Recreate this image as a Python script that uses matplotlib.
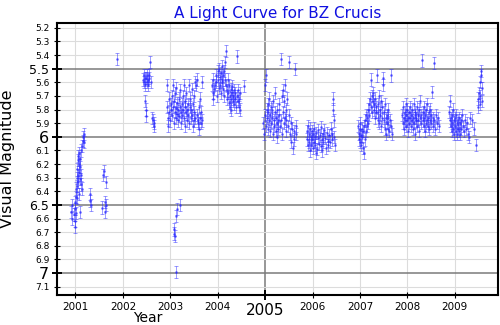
import numpy as np
import matplotlib
matplotlib.use("Agg")
import matplotlib.pyplot as plt
from matplotlib.ticker import FixedLocator

# Visual magnitude estimates of BZ Crucis, one (decimal year, magnitude) pair per row
season_2001 = np.array([
    (2000.91, 6.55), (2000.92, 6.60), (2000.93, 6.50), (2000.97, 6.57), (2000.98, 6.53),
    (2000.99, 6.62), (2001.00, 6.48), (2001.00, 6.66), (2001.01, 6.44), (2001.02, 6.56),
    (2001.02, 6.38), (2001.03, 6.30), (2001.03, 6.45), (2001.04, 6.24), (2001.04, 6.36),
    (2001.05, 6.17), (2001.05, 6.28), (2001.06, 6.14), (2001.06, 6.33), (2001.07, 6.20),
    (2001.07, 6.42), (2001.08, 6.12), (2001.08, 6.26), (2001.09, 6.22), (2001.09, 6.55),
    (2001.10, 6.16), (2001.10, 6.31), (2001.11, 6.28), (2001.12, 6.35), (2001.12, 6.10),
    (2001.13, 6.38), (2001.14, 6.07), (2001.15, 6.03), (2001.16, 6.00), (2001.17, 5.98),
    (2001.18, 6.04),
    (2001.30, 6.42), (2001.31, 6.47), (2001.33, 6.50),
    (2001.57, 6.52), (2001.58, 6.28), (2001.60, 6.25), (2001.62, 6.48), (2001.63, 6.55),
    (2001.64, 6.33), (2001.65, 6.50),
    (2001.88, 5.43),
])

season_2002 = np.array([
    (2002.43, 5.58), (2002.44, 5.55), (2002.45, 5.60), (2002.46, 5.57), (2002.47, 5.62),
    (2002.47, 5.74), (2002.48, 5.80), (2002.49, 5.85), (2002.49, 5.57), (2002.50, 5.60),
    (2002.51, 5.55), (2002.52, 5.58), (2002.53, 5.62), (2002.55, 5.57), (2002.56, 5.55),
    (2002.58, 5.45), (2002.59, 5.60), (2002.61, 5.86), (2002.63, 5.88), (2002.65, 5.92),
    (2002.66, 5.90),
])

season_2003 = np.array([
    (2002.93, 5.62), (2002.94, 5.78), (2002.95, 5.86), (2002.96, 5.92), (2002.97, 5.72),
    (2002.98, 5.82), (2003.00, 5.88), (2003.01, 5.76), (2003.02, 5.80), (2003.03, 5.70),
    (2003.04, 5.84), (2003.05, 5.62), (2003.06, 5.78), (2003.07, 5.90), (2003.08, 5.74),
    (2003.09, 5.82), (2003.10, 5.68), (2003.11, 5.86), (2003.12, 5.79), (2003.13, 5.64),
    (2003.14, 5.83), (2003.15, 5.75), (2003.16, 5.88), (2003.17, 5.80), (2003.18, 5.72),
    (2003.19, 5.85), (2003.20, 5.78), (2003.21, 5.66), (2003.22, 5.82), (2003.23, 5.90),
    (2003.24, 5.76), (2003.25, 5.84), (2003.26, 5.70), (2003.27, 5.80), (2003.28, 5.62),
    (2003.29, 5.86), (2003.30, 5.78), (2003.31, 5.92), (2003.32, 5.74), (2003.33, 5.82),
    (2003.34, 5.68), (2003.35, 5.88), (2003.36, 5.80), (2003.37, 5.76), (2003.38, 5.84),
    (2003.39, 5.62), (2003.40, 5.90), (2003.41, 5.78), (2003.42, 5.72), (2003.43, 5.86),
    (2003.44, 5.80), (2003.45, 5.65), (2003.46, 5.84), (2003.47, 5.92), (2003.48, 5.76),
    (2003.49, 5.88), (2003.50, 5.70), (2003.51, 5.82), (2003.52, 5.60), (2003.53, 5.86),
    (2003.55, 5.62), (2003.56, 5.58), (2003.57, 5.84), (2003.58, 5.90), (2003.59, 5.88),
    (2003.60, 5.94), (2003.61, 5.78), (2003.62, 5.86), (2003.63, 5.72), (2003.64, 5.90),
    (2003.65, 5.82), (2003.66, 5.60), (2003.67, 5.88),
    # faint episode early in 2003
    (2003.07, 6.68), (2003.08, 6.71), (2003.09, 6.73), (2003.13, 6.58), (2003.13, 6.99),
    (2003.15, 6.53), (2003.20, 6.50),
])

season_2004 = np.array([
    (2003.88, 5.62), (2003.89, 5.68), (2003.90, 5.58), (2003.91, 5.72), (2003.92, 5.65),
    (2003.94, 5.62), (2003.96, 5.55), (2003.97, 5.60), (2003.98, 5.70), (2004.00, 5.52),
    (2004.01, 5.58), (2004.02, 5.64), (2004.03, 5.50), (2004.04, 5.56), (2004.05, 5.62),
    (2004.06, 5.53), (2004.07, 5.68), (2004.08, 5.58), (2004.09, 5.48), (2004.10, 5.60),
    (2004.11, 5.55), (2004.12, 5.65), (2004.13, 5.52), (2004.14, 5.70), (2004.15, 5.58),
    (2004.16, 5.45), (2004.17, 5.62), (2004.18, 5.37), (2004.19, 5.66), (2004.20, 5.72),
    (2004.21, 5.58), (2004.22, 5.68), (2004.23, 5.75), (2004.24, 5.62), (2004.25, 5.70),
    (2004.26, 5.78), (2004.27, 5.65), (2004.28, 5.72), (2004.29, 5.80), (2004.30, 5.68),
    (2004.31, 5.63), (2004.32, 5.74), (2004.33, 5.70), (2004.34, 5.66), (2004.35, 5.76),
    (2004.36, 5.72), (2004.37, 5.68), (2004.38, 5.78), (2004.40, 5.41), (2004.41, 5.70),
    (2004.42, 5.74), (2004.43, 5.66), (2004.44, 5.78), (2004.45, 5.72), (2004.46, 5.80),
    (2004.47, 5.68), (2004.55, 5.63),
])

season_2005 = np.array([
    (2004.96, 5.90), (2004.97, 5.98), (2004.99, 5.84), (2005.00, 5.62), (2005.01, 5.92),
    (2005.02, 5.55), (2005.03, 5.80), (2005.04, 5.86), (2005.05, 5.76), (2005.06, 5.94),
    (2005.07, 5.82), (2005.08, 5.88), (2005.09, 5.72), (2005.10, 5.96), (2005.11, 5.84),
    (2005.12, 5.78), (2005.13, 5.90), (2005.14, 5.86), (2005.15, 5.80), (2005.16, 5.98),
    (2005.17, 5.74), (2005.18, 5.88), (2005.19, 5.92), (2005.20, 5.82), (2005.21, 5.68),
    (2005.22, 5.96), (2005.23, 5.86), (2005.24, 5.90), (2005.25, 6.00), (2005.26, 5.80),
    (2005.27, 5.88), (2005.28, 5.94), (2005.29, 5.84), (2005.30, 5.76), (2005.31, 5.92),
    (2005.33, 5.88), (2005.34, 5.43), (2005.35, 5.98), (2005.36, 5.70), (2005.37, 5.82),
    (2005.38, 5.66), (2005.39, 5.90), (2005.40, 5.74), (2005.41, 5.86), (2005.42, 5.62),
    (2005.43, 5.96), (2005.44, 5.80), (2005.45, 5.88), (2005.46, 5.72), (2005.48, 5.92),
    (2005.50, 5.45), (2005.51, 5.84), (2005.52, 5.98), (2005.54, 5.90), (2005.55, 6.04),
    (2005.57, 5.94), (2005.58, 6.08), (2005.60, 5.96), (2005.61, 6.02), (2005.62, 5.50),
    (2005.64, 5.98), (2005.66, 5.92),
])

season_2006 = np.array([
    (2005.88, 5.96), (2005.89, 6.02), (2005.90, 5.92), (2005.91, 6.06), (2005.92, 5.98),
    (2005.93, 6.04), (2005.94, 6.10), (2005.95, 5.94), (2005.96, 6.00), (2005.97, 6.06),
    (2005.98, 5.96), (2005.99, 6.02), (2006.00, 6.08), (2006.01, 5.98), (2006.03, 6.04),
    (2006.04, 5.94), (2006.05, 6.00), (2006.06, 6.06), (2006.07, 5.97), (2006.08, 6.12),
    (2006.10, 6.09), (2006.11, 5.95), (2006.12, 6.01), (2006.13, 6.05), (2006.15, 5.99),
    (2006.17, 6.07), (2006.18, 5.93), (2006.19, 6.02), (2006.20, 6.10), (2006.22, 5.98),
    (2006.23, 6.04), (2006.25, 5.95), (2006.27, 6.01), (2006.28, 6.08), (2006.30, 5.97),
    (2006.32, 6.03), (2006.33, 6.06), (2006.35, 5.99), (2006.37, 6.04), (2006.38, 5.94),
    (2006.40, 6.02), (2006.42, 5.98), (2006.43, 5.72), (2006.44, 5.80), (2006.45, 5.88),
    (2006.46, 6.00), (2006.47, 6.06),
])

season_2007 = np.array([
    (2006.96, 5.92), (2006.97, 5.98), (2006.98, 6.02), (2006.99, 5.95), (2007.00, 6.04),
    (2007.01, 5.90), (2007.02, 5.99), (2007.03, 6.06), (2007.04, 5.94), (2007.05, 6.00),
    (2007.06, 6.08), (2007.07, 5.96), (2007.08, 6.12), (2007.09, 5.92), (2007.10, 6.02),
    (2007.11, 5.88), (2007.12, 5.96), (2007.13, 5.84), (2007.14, 5.92), (2007.15, 5.86),
    (2007.16, 5.80), (2007.17, 5.90), (2007.18, 5.76), (2007.20, 5.84), (2007.22, 5.72),
    (2007.23, 5.58), (2007.24, 5.78), (2007.25, 5.70), (2007.26, 5.82), (2007.27, 5.74),
    (2007.28, 5.68), (2007.29, 5.80), (2007.30, 5.76), (2007.31, 5.86), (2007.32, 5.72),
    (2007.33, 5.82), (2007.34, 5.78), (2007.36, 5.55), (2007.37, 5.88), (2007.38, 5.76),
    (2007.39, 5.82), (2007.40, 5.70), (2007.41, 5.90), (2007.42, 5.80), (2007.43, 5.84),
    (2007.44, 5.74), (2007.45, 5.92), (2007.46, 5.86), (2007.47, 5.78), (2007.48, 5.57),
    (2007.49, 5.62), (2007.50, 5.88), (2007.51, 5.82), (2007.52, 5.94), (2007.53, 5.76),
    (2007.54, 5.86), (2007.55, 5.98), (2007.56, 5.84), (2007.57, 5.90), (2007.58, 5.80),
    (2007.59, 5.94), (2007.60, 5.86), (2007.62, 5.96), (2007.64, 5.88), (2007.65, 5.55),
    (2007.66, 5.92), (2007.68, 5.98),
])

season_2008 = np.array([
    (2007.89, 5.84), (2007.90, 5.90), (2007.91, 5.78), (2007.92, 5.86), (2007.93, 5.94),
    (2007.94, 5.82), (2007.95, 5.88), (2007.96, 5.76), (2007.97, 5.92), (2007.98, 5.84),
    (2007.99, 5.80), (2008.00, 5.88), (2008.01, 5.86), (2008.02, 5.96), (2008.03, 5.82),
    (2008.04, 5.90), (2008.05, 5.78), (2008.06, 5.86), (2008.07, 5.92), (2008.08, 5.84),
    (2008.09, 5.88), (2008.10, 5.80), (2008.11, 5.94), (2008.12, 5.86), (2008.13, 5.76),
    (2008.14, 5.90), (2008.15, 5.84), (2008.16, 5.98), (2008.17, 5.82), (2008.18, 5.88),
    (2008.19, 5.86), (2008.20, 5.78), (2008.21, 5.92), (2008.22, 5.84), (2008.23, 5.88),
    (2008.24, 5.80), (2008.25, 5.96), (2008.26, 5.86), (2008.27, 5.74), (2008.28, 5.90),
    (2008.29, 5.84), (2008.31, 5.44), (2008.32, 5.88), (2008.33, 5.82), (2008.34, 5.92),
    (2008.35, 5.78), (2008.36, 5.86), (2008.37, 5.96), (2008.38, 5.84), (2008.39, 5.90),
    (2008.40, 5.80), (2008.41, 5.88), (2008.42, 5.76), (2008.43, 5.92), (2008.44, 5.86),
    (2008.45, 5.82), (2008.46, 5.94), (2008.47, 5.88), (2008.48, 5.80), (2008.49, 5.90),
    (2008.50, 5.84), (2008.52, 5.67), (2008.53, 5.92), (2008.54, 5.86), (2008.56, 5.46),
    (2008.57, 5.88), (2008.58, 5.94), (2008.60, 5.84), (2008.62, 5.90), (2008.64, 5.86),
    (2008.66, 5.92),
])

season_2009 = np.array([
    (2008.88, 5.82), (2008.89, 5.88), (2008.90, 5.74), (2008.91, 5.92), (2008.92, 5.86),
    (2008.93, 5.96), (2008.94, 5.84), (2008.95, 5.90), (2008.96, 5.80), (2008.97, 5.94),
    (2008.98, 5.88), (2008.99, 5.98), (2009.00, 5.86), (2009.01, 5.92), (2009.02, 5.96),
    (2009.03, 5.84), (2009.04, 5.90), (2009.05, 5.98), (2009.06, 5.88), (2009.07, 5.94),
    (2009.08, 5.86), (2009.09, 5.96), (2009.10, 5.90), (2009.11, 5.98), (2009.12, 5.88),
    (2009.14, 5.94), (2009.15, 5.84), (2009.17, 5.92), (2009.19, 5.96), (2009.21, 5.88),
    (2009.23, 5.94), (2009.25, 5.90), (2009.28, 5.98), (2009.30, 6.00), (2009.33, 5.86),
    (2009.36, 5.88), (2009.40, 5.94), (2009.44, 6.06),
    (2009.48, 5.78), (2009.49, 5.72), (2009.50, 5.68), (2009.52, 5.76), (2009.53, 5.60),
    (2009.54, 5.70), (2009.55, 5.55), (2009.56, 5.52), (2009.57, 5.64), (2009.58, 5.74),
])

mag_error = 0.045

seasons = [season_2001, season_2002, season_2003, season_2004, season_2005,
           season_2006, season_2007, season_2008, season_2009]

major_mags = [5.5, 6.0, 6.5, 7.0]
major_mag_labels = ["5.5", "6", "6.5", "7"]
minor_mags = [5.2, 5.3, 5.4, 5.6, 5.7, 5.8, 5.9, 6.1, 6.2, 6.3, 6.4,
              6.6, 6.7, 6.8, 6.9, 7.1]
year_ticks = [2001, 2002, 2003, 2004, 2006, 2007, 2008, 2009]
major_year = 2005

fig = plt.figure(figsize=(5.0, 3.25), dpi=100)
ax = fig.add_axes([0.113, 0.092, 0.883, 0.836])

data = np.vstack(seasons)
ax.errorbar(data[:, 0], data[:, 1], yerr=mag_error, fmt='o', markersize=1.0,
            color='#2a2aff', ecolor='#2a2aff', elinewidth=0.6, capsize=1.2,
            capthick=0.6, alpha=0.55, zorder=3)

ax.set_xlim(2000.6, 2009.91)
ax.set_ylim(7.162, 5.168)

# ticks: large labels on the major values, small ones on the minor values
ax.yaxis.set_major_locator(FixedLocator(major_mags))
ax.yaxis.set_minor_locator(FixedLocator(minor_mags))
ax.set_yticklabels(major_mag_labels)
ax.set_yticklabels([f"{v:.1f}" for v in minor_mags], minor=True, fontsize=6.5)
for lab, v in zip(ax.get_yticklabels(), major_mags):
    lab.set_fontsize(11.5 if v in (6.0, 7.0) else 9)

ax.xaxis.set_major_locator(FixedLocator([major_year]))
ax.xaxis.set_minor_locator(FixedLocator(year_ticks))
ax.set_xticklabels([str(major_year)], fontsize=11)
ax.set_xticklabels([str(y) for y in year_ticks], minor=True, fontsize=7.5)

ax.tick_params(which='major', direction='inout', length=7, width=1.4, pad=2)
ax.tick_params(which='minor', direction='inout', length=4, width=0.8, pad=3)
ax.tick_params(axis='x', which='major', pad=2)

ax.grid(which='minor', color='#dcdcdc', linewidth=0.8, zorder=0)
ax.grid(which='major', color='#7a7a7a', linewidth=1.1, zorder=1)
ax.set_axisbelow(True)

for sp in ax.spines.values():
    sp.set_linewidth(1.5)
    sp.set_color('black')

ax.set_title("A Light Curve for BZ Crucis", color='#1010e0', fontsize=11, pad=4)
ax.set_xlabel("Year", fontsize=10)
ax.xaxis.set_label_coords(0.206, -0.058)
ax.set_ylabel("Visual Magnitude", fontsize=11.5)
ax.yaxis.set_label_coords(-0.094, 0.5)

fig.savefig("out.png", dpi=100, facecolor='white')
